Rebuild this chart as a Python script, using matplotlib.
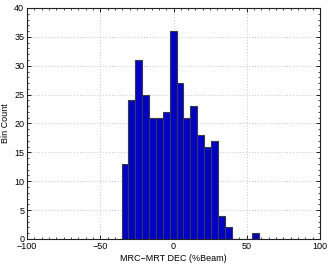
import numpy as np
import matplotlib
matplotlib.use("Agg")
import matplotlib.pyplot as plt
from matplotlib.ticker import MultipleLocator

# Data
counts = [13, 24, 31, 25, 21, 21, 22, 36, 27, 21, 23, 18, 16, 17, 4, 2, 0, 0, 0, 1]
data_min = -35.5
data_max = 58.5
x_ticks = [-100, -50, 0, 50, 100]
y_ticks = [0, 5, 10, 15, 20, 25, 30, 35, 40]

edges = np.linspace(data_min, data_max, len(counts) + 1)
widths = np.diff(edges)

plt.rcParams['font.family'] = ['Liberation Sans', 'DejaVu Sans']
fig = plt.figure(figsize=(3.32, 2.64), dpi=100)
ax = fig.add_axes([0.0813, 0.0947, 0.8827, 0.875])

ax.bar(edges[:-1], counts, width=widths, align='edge', color='#0000cc',
       edgecolor='#3a3a3a', linewidth=0.8, zorder=3)

ax.set_xlim(-100, 100)
ax.set_ylim(0, 40)
ax.set_xticks(x_ticks)
ax.set_xticklabels(['\u2212100', '\u221250', '0', '50', '100'])
ax.set_yticks(y_ticks)
ax.xaxis.set_minor_locator(MultipleLocator(5))
ax.yaxis.set_minor_locator(MultipleLocator(1))
ax.tick_params(which='both', direction='in', top=True, right=True, labelsize=6.5, pad=2)
ax.tick_params(axis='x', pad=2.5)
ax.tick_params(which='major', length=3, width=0.6)
ax.tick_params(which='minor', length=1.5, width=0.5)
ax.grid(True, which='major', linestyle=(0, (1, 2.5)), color='#b0b0b0', linewidth=0.6, zorder=0)
for s in ax.spines.values():
    s.set_linewidth(0.8)
    s.set_color('#222222')

ax.set_xlabel('MRC\u2212MRT DEC (%Beam)', fontsize=6.5, labelpad=2)
ax.set_ylabel('Bin Count', fontsize=6.5, labelpad=3)

fig.savefig('out.png', dpi=100)
